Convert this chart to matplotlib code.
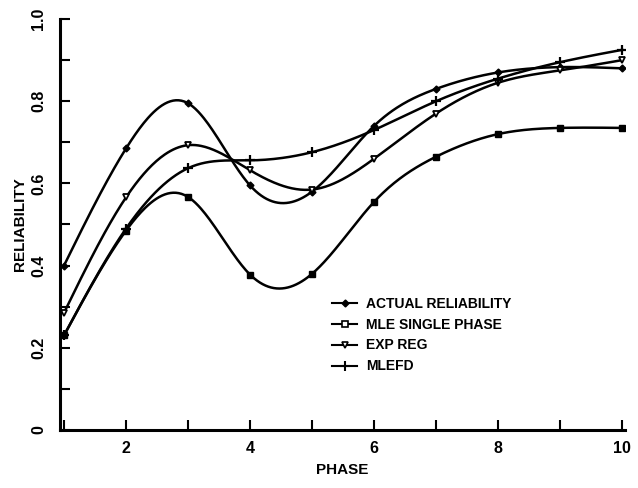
import numpy as np
import matplotlib
matplotlib.use("Agg")
import matplotlib.pyplot as plt
from matplotlib.lines import Line2D

# data
phase = [1, 2, 3, 4, 5, 6, 7, 8, 9, 10]
actual = [0.40, 0.685, 0.795, 0.595, 0.58, 0.74, 0.83, 0.87, 0.883, 0.88]
mle_single = [0.23, 0.485, 0.567, 0.378, 0.38, 0.555, 0.665, 0.72, 0.735, 0.735]
exp_reg = [0.285, 0.566, 0.693, 0.632, 0.585, 0.66, 0.77, 0.845, 0.875, 0.90]
mlefd = [0.23, 0.49, 0.637, 0.656, 0.676, 0.73, 0.80, 0.855, 0.895, 0.925]

labels = ["ACTUAL RELIABILITY", "MLE SINGLE PHASE", "EXP REG", "MLEFD"]


def natural_spline(x, y, n=400):
    # natural cubic spline through the points, just for drawing the smooth curve
    x = np.asarray(x, float)
    y = np.asarray(y, float)
    k = len(x)
    h = np.diff(x)
    A = np.zeros((k, k))
    b = np.zeros(k)
    A[0, 0] = A[-1, -1] = 1
    for i in range(1, k - 1):
        A[i, i - 1] = h[i - 1]
        A[i, i] = 2 * (h[i - 1] + h[i])
        A[i, i + 1] = h[i]
        b[i] = 3 * ((y[i + 1] - y[i]) / h[i] - (y[i] - y[i - 1]) / h[i - 1])
    c = np.linalg.solve(A, b)
    xs = np.linspace(x[0], x[-1], n)
    idx = np.clip(np.searchsorted(x, xs) - 1, 0, k - 2)
    dx = xs - x[idx]
    bi = (y[idx + 1] - y[idx]) / h[idx] - h[idx] * (2 * c[idx] + c[idx + 1]) / 3
    di = (c[idx + 1] - c[idx]) / (3 * h[idx])
    ys = y[idx] + bi * dx + c[idx] * dx ** 2 + di * dx ** 3
    return xs, ys


plt.rcParams["font.family"] = ["Liberation Sans", "DejaVu Sans"]
plt.rcParams["font.weight"] = "bold"

fig = plt.figure(figsize=(6.38, 4.88), dpi=100)
ax = fig.add_axes([0.094, 0.119, 0.886, 0.842])

series = [
    (actual, dict(marker="D", ms=3.5, mfc="black")),
    (mle_single, dict(marker="s", ms=5, mfc="black")),
    (exp_reg, dict(marker="v", ms=5, mfc="white", mew=1.3)),
    (mlefd, dict(marker="+", ms=7, mew=1.6)),
]

for vals, style in series:
    xs, ys = natural_spline(phase, vals)
    ax.plot(xs, ys, color="black", lw=1.8)
    ax.plot(phase, vals, ls="none", color="black", mec="black", **style)

ax.set_xlim(0.935, 10.05)
ax.set_ylim(0, 1.0)

ax.spines["top"].set_visible(False)
ax.spines["right"].set_visible(False)
ax.spines["left"].set_linewidth(2.2)
ax.spines["bottom"].set_linewidth(2.2)

ax.set_xticks(range(1, 11))
ax.set_xticklabels(["" if i % 2 else str(i) for i in range(1, 11)])
ax.set_yticks(np.arange(0, 1.01, 0.1))
ax.set_yticklabels(["0" if i == 0 else (f"{i / 10:.1f}" if i % 2 == 0 else "") for i in range(11)],
                   rotation=90, va="center")
ax.tick_params(direction="in", length=7, width=1.5, labelsize=11.5, pad=8)
ax.tick_params(axis="y", pad=10)

ax.set_xlabel("PHASE", fontsize=11, fontweight="bold", labelpad=5)
ax.set_ylabel("RELIABILITY", fontsize=11, fontweight="bold", labelpad=3)

handles = [
    Line2D([], [], color="black", lw=1.5, marker="D", ms=3.5, mfc="black"),
    Line2D([], [], color="black", lw=1.5, marker="s", ms=5, mfc="white", mew=1.2),
    Line2D([], [], color="black", lw=1.5, marker="v", ms=5, mfc="white", mew=1.2),
    Line2D([], [], color="black", lw=1.5, marker="+", ms=7, mew=1.5),
]
ax.legend(handles, labels, loc="upper left", bbox_to_anchor=(0.46, 0.355),
          frameon=False, handlelength=1.8, handletextpad=0.6, labelspacing=0.5,
          prop={"size": 10, "weight": "bold"})

fig.savefig("out.png", dpi=100)
